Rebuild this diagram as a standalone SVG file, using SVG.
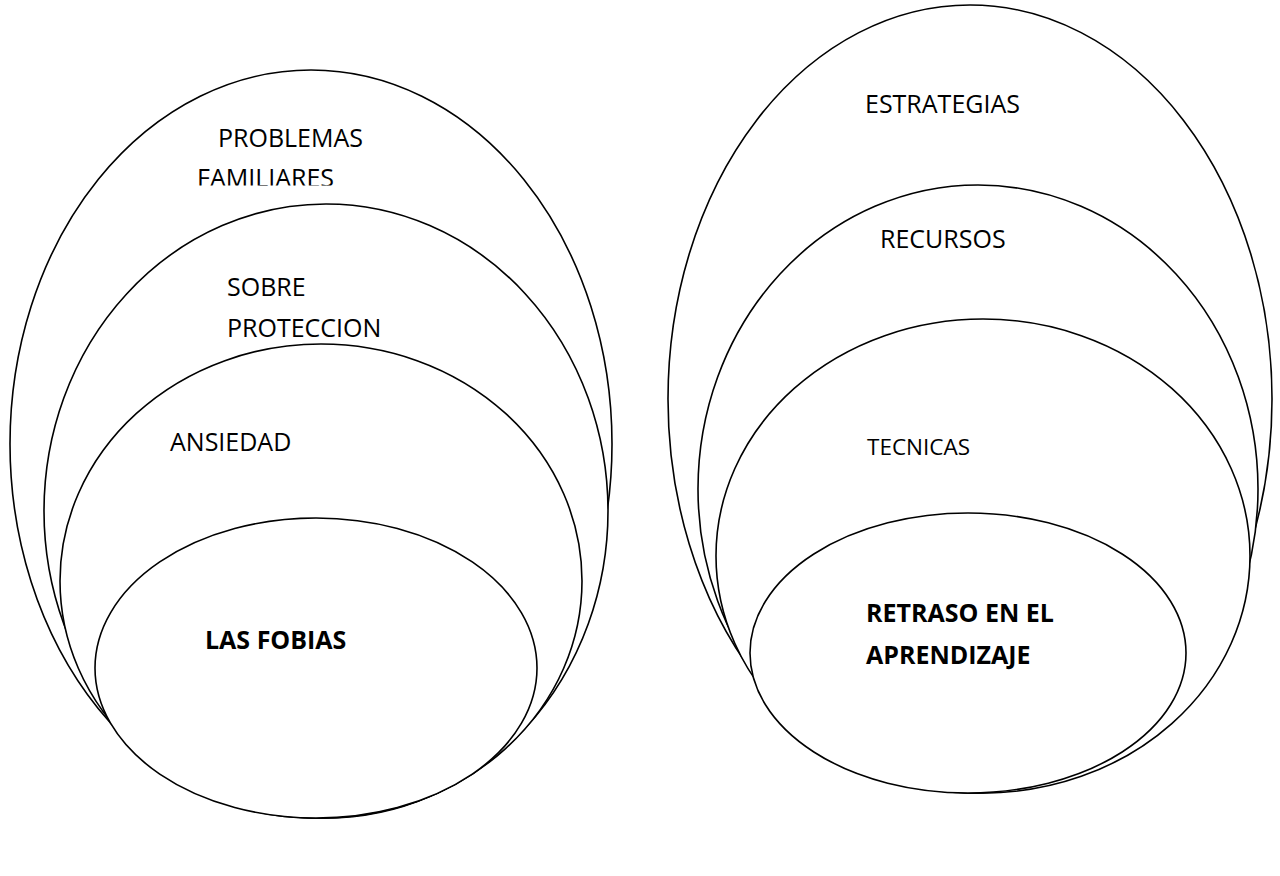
<svg xmlns="http://www.w3.org/2000/svg" width="1280" height="876" viewBox="0 0 1280 876">
<style>
.e{fill:#fff;stroke:#000;stroke-width:1.6}
.t{font-family:"Open Sans","Liberation Sans",sans-serif;font-size:25px;fill:#000}
.b{font-weight:bold}
</style>
<defs>
<clipPath id="famclip"><rect x="150" y="150" width="250" height="35.5"/></clipPath>
</defs>
<rect width="1280" height="876" fill="#fff"/>
<g id="problemas-familiares">
<ellipse class="e" cx="311" cy="444" rx="301" ry="374"/>
<text class="t" x="218" y="147">PROBLEMAS</text>
<text class="t" x="197" y="187" clip-path="url(#famclip)">FAMILIARES</text>
</g>
<g id="sobreproteccion">
<ellipse class="e" cx="326" cy="511" rx="282" ry="307"/>
<text class="t" x="227" y="296">SOBRE</text>
<text class="t" x="227" y="337">PROTECCION</text>
</g>
<g id="ansiedad">
<ellipse class="e" cx="321" cy="581" rx="261" ry="237"/>
<text class="t" x="170" y="451">ANSIEDAD</text>
</g>
<g id="las-fobias">
<ellipse class="e" cx="316" cy="668" rx="221" ry="150"/>
<text class="t b" x="205" y="649">LAS FOBIAS</text>
</g>
<g id="estrategias">
<ellipse class="e" cx="970" cy="399" rx="302" ry="394"/>
<text class="t" x="865" y="113">ESTRATEGIAS</text>
</g>
<g id="recursos">
<ellipse class="e" cx="978" cy="489" rx="280" ry="304"/>
<text class="t" x="880" y="248">RECURSOS</text>
</g>
<g id="tecnicas">
<ellipse class="e" cx="983" cy="556" rx="267" ry="237"/>
<text class="t" style="font-size:22.5px" x="867" y="455">TECNICAS</text>
</g>
<g id="retraso">
<ellipse class="e" cx="968" cy="653" rx="218" ry="140"/>
<text class="t b" x="866" y="622">RETRASO EN EL</text>
<text class="t b" x="866" y="664">APRENDIZAJE</text>
</g>
<g id="connectors"></g>
</svg>
